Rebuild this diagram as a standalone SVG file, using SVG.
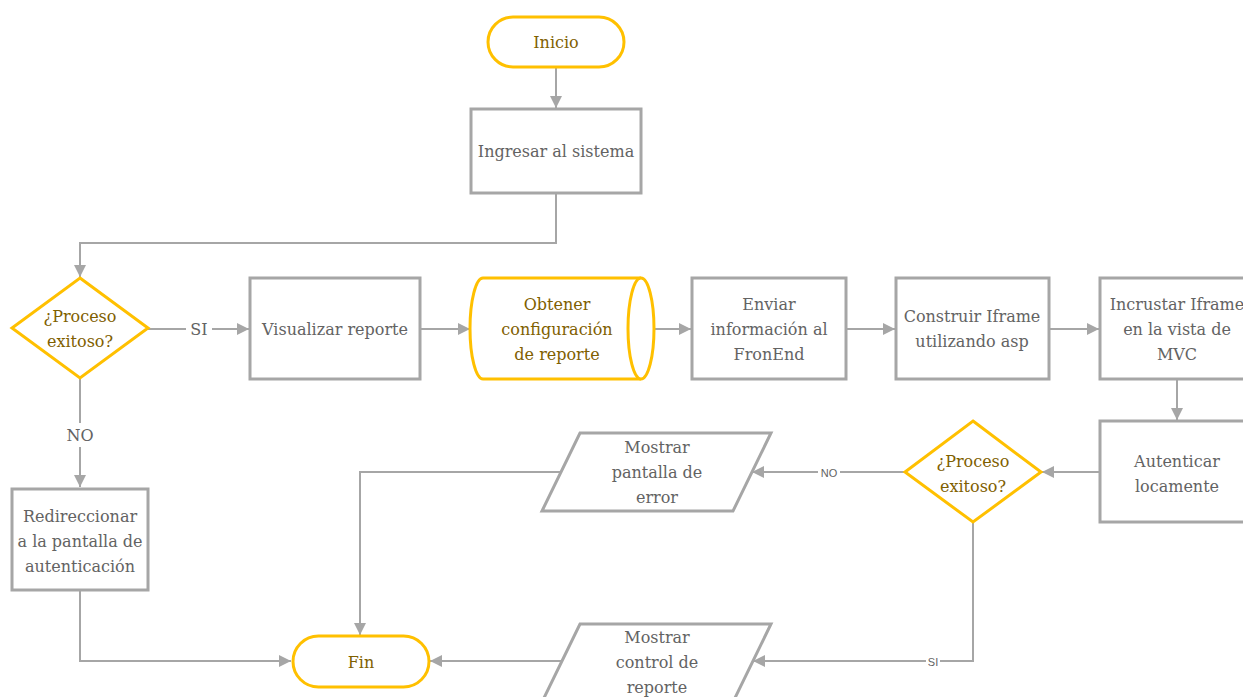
<svg xmlns="http://www.w3.org/2000/svg" width="1243" height="697" viewBox="0 0 1243 697">
<style>
.box{fill:#fff;stroke:#A6A6A6;stroke-width:3}
.yel{fill:#fff;stroke:#FFC000;stroke-width:3}
.t{font-family:'DejaVu Serif',serif;font-size:16px;fill:#636363;text-anchor:middle}
.ty{font-family:'DejaVu Serif',serif;font-size:16px;fill:#7F6000;text-anchor:middle}
.ln{fill:none;stroke:#A6A6A6;stroke-width:2}
.lbl{font-family:'DejaVu Serif',serif;font-size:16px;fill:#636363;text-anchor:middle}
.sl{font-family:'Liberation Sans',Arial,sans-serif;font-size:11px;fill:#636363;text-anchor:middle}
</style>
<defs>
<marker id="ah" markerUnits="userSpaceOnUse" markerWidth="12" markerHeight="12" refX="12" refY="6" orient="auto">
<path d="M0,0 L12,6 L0,12 z" fill="#A6A6A6"/>
</marker>
</defs>
<rect width="1243" height="697" fill="#fff"/>
<g id="connectors">
<path class="ln" d="M556,68 L556,108" marker-end="url(#ah)"/>
<path class="ln" d="M556,194 L556,243 L80,243 L80,277" marker-end="url(#ah)"/>
<path class="ln" d="M148,329 L249,329" marker-end="url(#ah)"/>
<path class="ln" d="M421,329 L470,329" marker-end="url(#ah)"/>
<path class="ln" d="M641,329 L691,329" marker-end="url(#ah)"/>
<path class="ln" d="M846,329 L895,329" marker-end="url(#ah)"/>
<path class="ln" d="M1049,329 L1099,329" marker-end="url(#ah)"/>
<path class="ln" d="M1177,379 L1177,420" marker-end="url(#ah)"/>
<path class="ln" d="M1100,472 L1042,472" marker-end="url(#ah)"/>
<path class="ln" d="M904,472 L752,472" marker-end="url(#ah)"/>
<path class="ln" d="M561,472 L360,472 L360,635" marker-end="url(#ah)"/>
<path class="ln" d="M973,522 L973,661 L753,661" marker-end="url(#ah)"/>
<path class="ln" d="M561,661 L430,661" marker-end="url(#ah)"/>
<path class="ln" d="M80,378 L80,487" marker-end="url(#ah)"/>
<path class="ln" d="M80,591 L80,661 L291,661" marker-end="url(#ah)"/>
<rect x="186" y="318" width="26" height="22" fill="#fff"/>
<text class="lbl" x="199" y="335">SI</text>
<rect x="64" y="423" width="32" height="24" fill="#fff"/>
<text class="lbl" x="80" y="441">NO</text>
<rect x="818" y="466" width="22" height="13" fill="#fff"/>
<text class="sl" x="829" y="477">NO</text>
<rect x="926" y="655" width="14" height="13" fill="#fff"/>
<text class="sl" x="933" y="666">SI</text>
</g>
<g id="inicio">
<rect class="yel" x="488" y="17" width="136" height="50" rx="25"/>
<text class="ty" x="556" y="48">Inicio</text>
</g>
<g id="ingresar">
<rect class="box" x="471" y="109" width="170" height="84"/>
<text class="t" x="556" y="157">Ingresar al sistema</text>
</g>
<g id="decision1">
<polygon class="yel" points="80,278 148,328 80,378 12,328"/>
<text class="ty" x="80" y="322">¿Proceso</text>
<text class="ty" x="80" y="347">exitoso?</text>
</g>
<g id="visualizar">
<rect class="box" x="250" y="278" width="170" height="101"/>
<text class="t" x="335" y="335">Visualizar reporte</text>
</g>
<g id="obtener">
<path class="yel" d="M483,278 L641,278 A13,50.5 0 0 1 641,379 L483,379 A13,50.5 0 0 1 483,278 Z"/>
<path class="yel" d="M641,278 A13,50.5 0 0 0 641,379" fill="none"/>
<text class="ty" x="557" y="310">Obtener</text>
<text class="ty" x="557" y="335">configuración</text>
<text class="ty" x="557" y="360">de reporte</text>
</g>
<g id="enviar">
<rect class="box" x="692" y="278" width="154" height="101"/>
<text class="t" x="769" y="310">Enviar</text>
<text class="t" x="769" y="335">información al</text>
<text class="t" x="769" y="360">FronEnd</text>
</g>
<g id="construir">
<rect class="box" x="896" y="278" width="153" height="101"/>
<text class="t" x="972" y="322">Construir Iframe</text>
<text class="t" x="972" y="347">utilizando asp</text>
</g>
<g id="incrustar">
<rect class="box" x="1100" y="278" width="154" height="101"/>
<text class="t" x="1177" y="310">Incrustar Iframe</text>
<text class="t" x="1177" y="335">en la vista de</text>
<text class="t" x="1177" y="360">MVC</text>
</g>
<g id="autenticar">
<rect class="box" x="1100" y="421" width="154" height="101"/>
<text class="t" x="1177" y="467">Autenticar</text>
<text class="t" x="1177" y="492">locamente</text>
</g>
<g id="decision2">
<polygon class="yel" points="973,421 1041,472 973,522 905,472"/>
<text class="ty" x="973" y="467">¿Proceso</text>
<text class="ty" x="973" y="492">exitoso?</text>
</g>
<g id="error">
<polygon class="box" points="580,433 771,433 733,511 542,511"/>
<text class="t" x="657" y="453">Mostrar</text>
<text class="t" x="657" y="478">pantalla de</text>
<text class="t" x="657" y="503">error</text>
</g>
<g id="control">
<polygon class="box" points="580,624 771,624 733,702 542,702"/>
<text class="t" x="657" y="643">Mostrar</text>
<text class="t" x="657" y="668">control de</text>
<text class="t" x="657" y="693">reporte</text>
</g>
<g id="redireccionar">
<rect class="box" x="12" y="489" width="136" height="101"/>
<text class="t" x="80" y="522">Redireccionar</text>
<text class="t" x="80" y="547">a la pantalla de</text>
<text class="t" x="80" y="572">autenticación</text>
</g>
<g id="fin">
<rect class="yel" x="293" y="636" width="136" height="51" rx="25.5"/>
<text class="ty" x="361" y="668">Fin</text>
</g>
</svg>
